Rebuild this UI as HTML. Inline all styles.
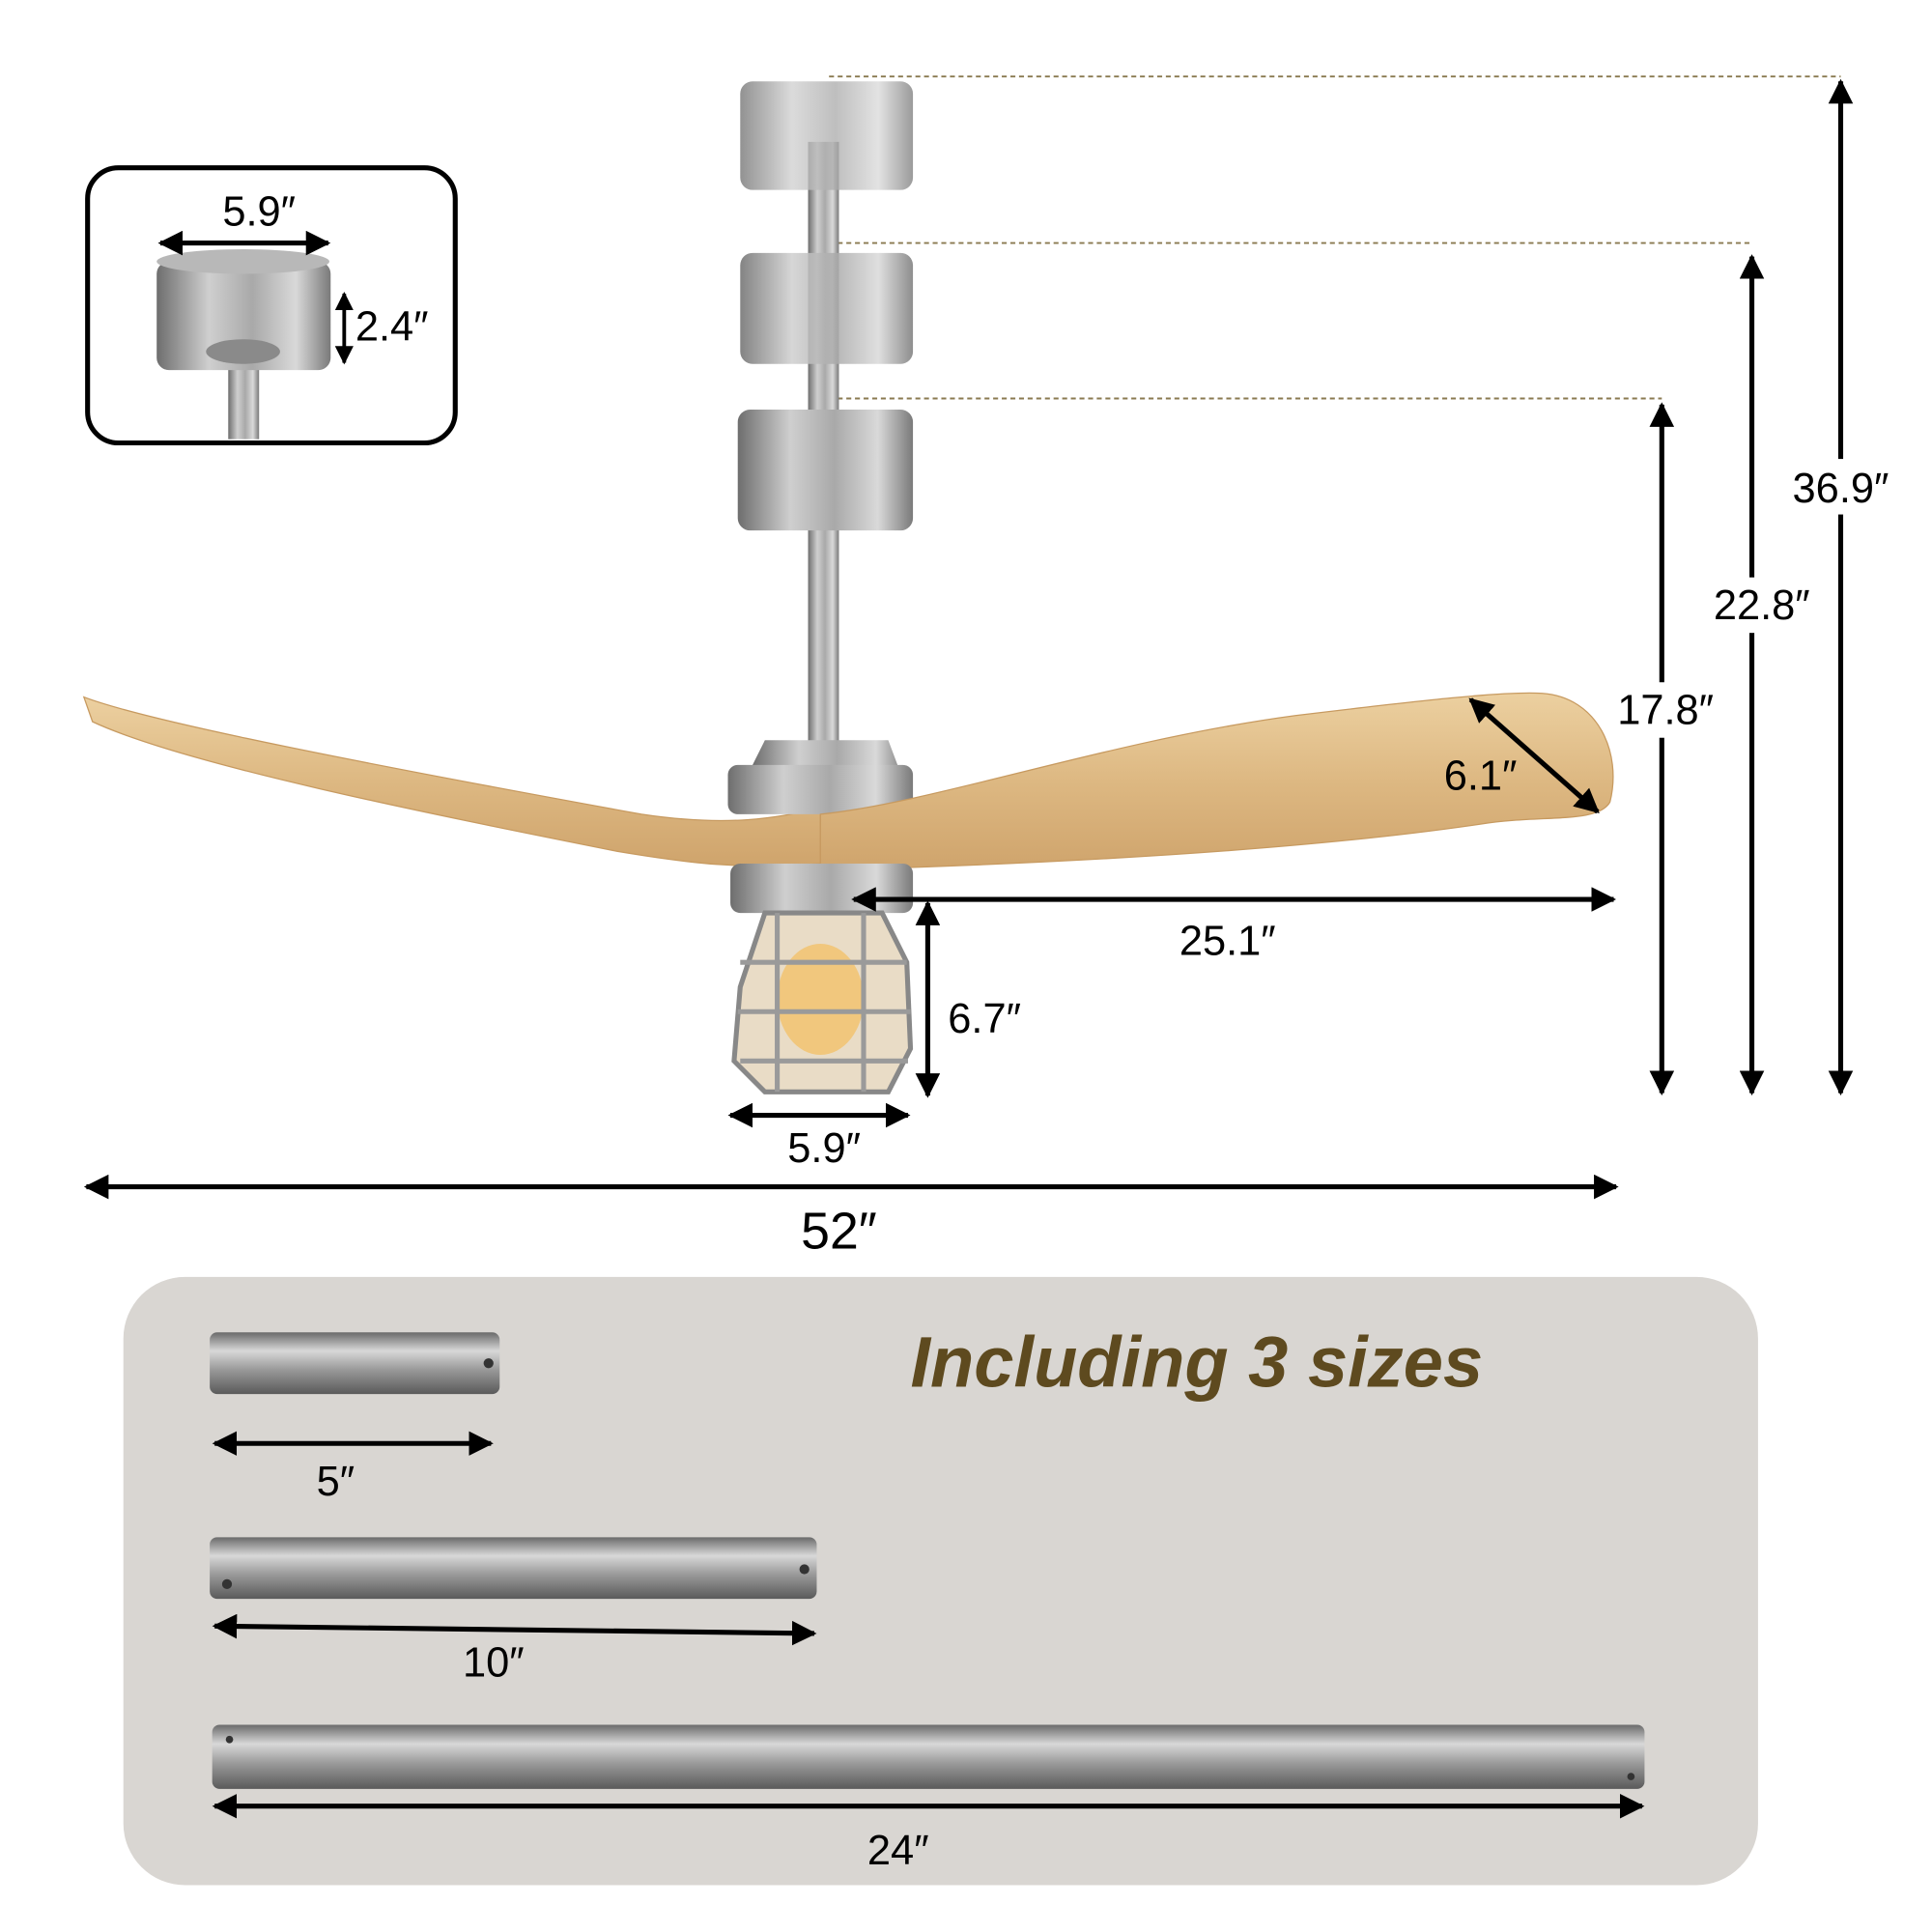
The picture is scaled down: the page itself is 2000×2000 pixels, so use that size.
<!DOCTYPE html>
<html><head><meta charset="utf-8"><style>
html,body{margin:0;padding:0;background:#fff;}
svg{display:block;}
text{font-family:"Liberation Sans",sans-serif;}
</style></head><body>
<svg width="2000" height="2000" viewBox="0 0 1566 1566" xmlns="http://www.w3.org/2000/svg">
<defs>
<linearGradient id="metal" x1="0" x2="1" y1="0" y2="0">
<stop offset="0" stop-color="#6e6e6e"/><stop offset="0.3" stop-color="#cfcfcf"/><stop offset="0.55" stop-color="#a9a9a9"/><stop offset="0.8" stop-color="#d9d9d9"/><stop offset="1" stop-color="#7a7a7a"/>
</linearGradient>
<linearGradient id="rod" x1="0" x2="0" y1="0" y2="1">
<stop offset="0" stop-color="#6a6a6a"/><stop offset="0.3" stop-color="#d8d8d8"/><stop offset="0.6" stop-color="#9a9a9a"/><stop offset="1" stop-color="#5a5a5a"/>
</linearGradient>
<linearGradient id="wood" x1="0" x2="0" y1="0" y2="1">
<stop offset="0" stop-color="#ecd0a0"/><stop offset="0.5" stop-color="#ddb882"/><stop offset="1" stop-color="#cfa46c"/>
</linearGradient>
<marker id="ah" viewBox="0 0 10 10" refX="9" refY="5" markerWidth="5" markerHeight="5" orient="auto-start-reverse"><path d="M0,0 L10,5 L0,10 z" fill="#000"/></marker>
</defs>

<rect x="71" y="136" width="298" height="223" rx="25" fill="#fff" stroke="#000" stroke-width="4"/>
<rect x="185" y="270" width="25" height="86" fill="url(#metal)"/>
<rect x="127" y="212" width="141" height="88" rx="10" fill="url(#metal)"/>
<ellipse cx="197" cy="212" rx="70" ry="10" fill="#b8b8b8"/>
<ellipse cx="197" cy="285" rx="30" ry="10" fill="#8a8a8a"/>
<line x1="130" y1="197" x2="266" y2="197" stroke="#000" stroke-width="4" marker-start="url(#ah)" marker-end="url(#ah)"/>
<text x="210" y="183" font-size="34" text-anchor="middle">5.9″</text>
<line x1="279" y1="238" x2="279" y2="294" stroke="#000" stroke-width="3" marker-start="url(#ah)" marker-end="url(#ah)"/>
<text x="288" y="276" font-size="34">2.4″</text>

<g stroke="#8a7a50" stroke-width="1.5" stroke-dasharray="4,3">
<line x1="672" y1="62" x2="1492" y2="62"/>
<line x1="665" y1="197" x2="1420" y2="197"/>
<line x1="665" y1="323" x2="1347" y2="323"/>
</g>

<rect x="655" y="115" width="25" height="510" fill="url(#metal)"/>
<rect x="600" y="66" width="140" height="88" rx="10" fill="url(#metal)" opacity="0.75"/>
<rect x="600" y="205" width="140" height="90" rx="10" fill="url(#metal)" opacity="0.85"/>
<rect x="598" y="332" width="142" height="98" rx="10" fill="url(#metal)"/>
<path d="M68,565 C120,585 300,620 520,660 C600,672 640,660 665,655 L665,700 C600,705 560,700 500,690 C350,660 150,620 75,585 Z" fill="url(#wood)" stroke="#c79a60" stroke-width="1"/>
<path d="M640,655 L610,620 L620,600 L720,600 L735,640 Z" fill="url(#metal)"/>
<rect x="590" y="620" width="150" height="40" rx="8" fill="url(#metal)"/>
<path d="M665,660 C760,650 900,600 1050,580 C1150,568 1220,560 1250,562 C1295,565 1315,610 1305,650 C1295,668 1250,660 1200,668 C1050,690 850,700 680,705 L665,700 Z" fill="url(#wood)" stroke="#c79a60" stroke-width="1"/>
<rect x="592" y="700" width="148" height="40" rx="8" fill="url(#metal)"/>
<path d="M620,740 L600,800 L595,860 L620,885 L720,885 L738,850 L735,780 L715,740 Z" fill="#e9dcc6" stroke="#888" stroke-width="4"/>
<ellipse cx="665" cy="810" rx="35" ry="45" fill="#f3c26a" opacity="0.8"/>
<g stroke="#9a9a9a" stroke-width="4" fill="none">
<line x1="600" y1="780" x2="735" y2="780"/><line x1="598" y1="820" x2="738" y2="820"/><line x1="600" y1="860" x2="736" y2="860"/>
<line x1="630" y1="740" x2="630" y2="885"/><line x1="700" y1="740" x2="700" y2="885"/>
</g>

<g stroke="#000" stroke-width="4">
<line x1="1492" y1="66" x2="1492" y2="886" marker-start="url(#ah)" marker-end="url(#ah)"/>
<line x1="1420" y1="208" x2="1420" y2="886" marker-start="url(#ah)" marker-end="url(#ah)"/>
<line x1="1347" y1="328" x2="1347" y2="886" marker-start="url(#ah)" marker-end="url(#ah)"/>
<line x1="692" y1="729" x2="1308" y2="729" marker-start="url(#ah)" marker-end="url(#ah)"/>
<line x1="752" y1="732" x2="752" y2="888" marker-start="url(#ah)" marker-end="url(#ah)"/>
<line x1="592" y1="904" x2="736" y2="904" marker-start="url(#ah)" marker-end="url(#ah)"/>
<line x1="70" y1="962" x2="1310" y2="962" marker-start="url(#ah)" marker-end="url(#ah)"/>
<line x1="1192" y1="567" x2="1295" y2="658" marker-start="url(#ah)" marker-end="url(#ah)"/>
</g>
<rect x="1450" y="372" width="85" height="45" fill="#fff"/>
<text x="1492" y="407" font-size="34" text-anchor="middle">36.9″</text>
<rect x="1385" y="468" width="85" height="45" fill="#fff"/>
<text x="1428" y="502" font-size="34" text-anchor="middle">22.8″</text>
<rect x="1305" y="553" width="85" height="45" fill="#fff"/>
<text x="1350" y="587" font-size="34" text-anchor="middle">17.8″</text>
<text x="995" y="774" font-size="34" text-anchor="middle">25.1″</text>
<text x="798" y="837" font-size="34" text-anchor="middle">6.7″</text>
<text x="668" y="942" font-size="34" text-anchor="middle">5.9″</text>
<text x="680" y="1012" font-size="42" text-anchor="middle">52″</text>
<text x="1200" y="640" font-size="34" text-anchor="middle">6.1″</text>

<rect x="100" y="1035" width="1325" height="493" rx="50" fill="#d9d6d2"/>
<text x="970" y="1124" font-size="58" font-weight="bold" font-style="italic" fill="#5e4a1f" text-anchor="middle">Including 3 sizes</text>
<rect x="170" y="1080" width="235" height="50" rx="6" fill="url(#rod)"/>
<rect x="170" y="1246" width="492" height="50" rx="6" fill="url(#rod)"/>
<rect x="172" y="1398" width="1161" height="52" rx="6" fill="url(#rod)"/>
<g fill="#333"><circle cx="396" cy="1105" r="4"/><circle cx="184" cy="1284" r="4"/><circle cx="652" cy="1272" r="4"/><circle cx="186" cy="1410" r="3"/><circle cx="1322" cy="1440" r="3"/></g>
<g stroke="#000" stroke-width="4">
<line x1="174" y1="1170" x2="398" y2="1170" marker-start="url(#ah)" marker-end="url(#ah)"/>
<line x1="174" y1="1318" x2="660" y2="1324" marker-start="url(#ah)" marker-end="url(#ah)"/>
<line x1="174" y1="1464" x2="1331" y2="1464" marker-start="url(#ah)" marker-end="url(#ah)"/>
</g>
<text x="272" y="1212" font-size="34" text-anchor="middle">5″</text>
<text x="400" y="1359" font-size="34" text-anchor="middle">10″</text>
<text x="728" y="1511" font-size="34" text-anchor="middle">24″</text>
</svg>
</body></html>
